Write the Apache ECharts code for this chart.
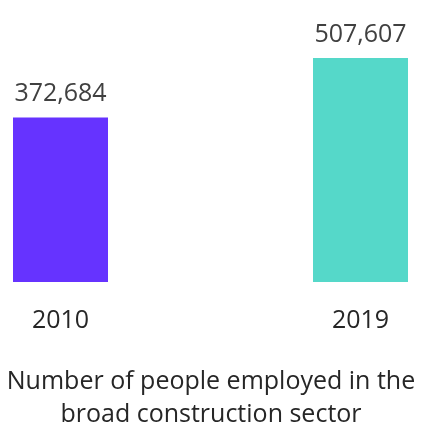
<!DOCTYPE html>
<html>
<head>
<meta charset="utf-8">
<script src="https://cdn.jsdelivr.net/npm/echarts@6/dist/echarts.min.js"></script>
<style>html,body{margin:0;padding:0;background:#fff}#c{width:422px;height:423px}</style>
</head>
<body>
<div id="c"></div>
<script>
const categories = ['2010', '2019'];
const values = [372684, 507607];
const barColors = ['#6633FF', '#55D8C9'];
const titleText = 'Number of people employed in the\nbroad construction sector';

const chart = echarts.init(document.getElementById('c'), null, {renderer: 'canvas'});
const font = '"Open Sans", "Noto Sans", sans-serif';
chart.setOption({
  animation: false,
  backgroundColor: '#ffffff',
  title: {
    text: titleText,
    left: 'center',
    top: 360,
    textStyle: {fontFamily: font, fontSize: 25, fontWeight: 'normal', color: '#262626', lineHeight: 33}
  },
  grid: {left: 60.5, right: 61.5, top: 58, bottom: 141},
  xAxis: {
    type: 'category',
    data: categories,
    boundaryGap: false,
    axisLine: {show: false},
    axisTick: {show: false},
    axisLabel: {fontFamily: font, fontSize: 25, color: '#262626', margin: 26}
  },
  yAxis: {
    type: 'value',
    min: 0,
    max: 'dataMax',
    show: false,
    splitLine: {show: false}
  },
  series: [{
    type: 'bar',
    barWidth: 95,
    data: values.map((v, i) => ({value: v, itemStyle: {color: barColors[i]}})),
    label: {
      show: true,
      position: 'top',
      distance: 11,
      fontFamily: font,
      fontSize: 25,
      color: '#404040',
      formatter: p => p.value.toLocaleString('en-US')
    }
  }]
});
</script>
</body>
</html>
